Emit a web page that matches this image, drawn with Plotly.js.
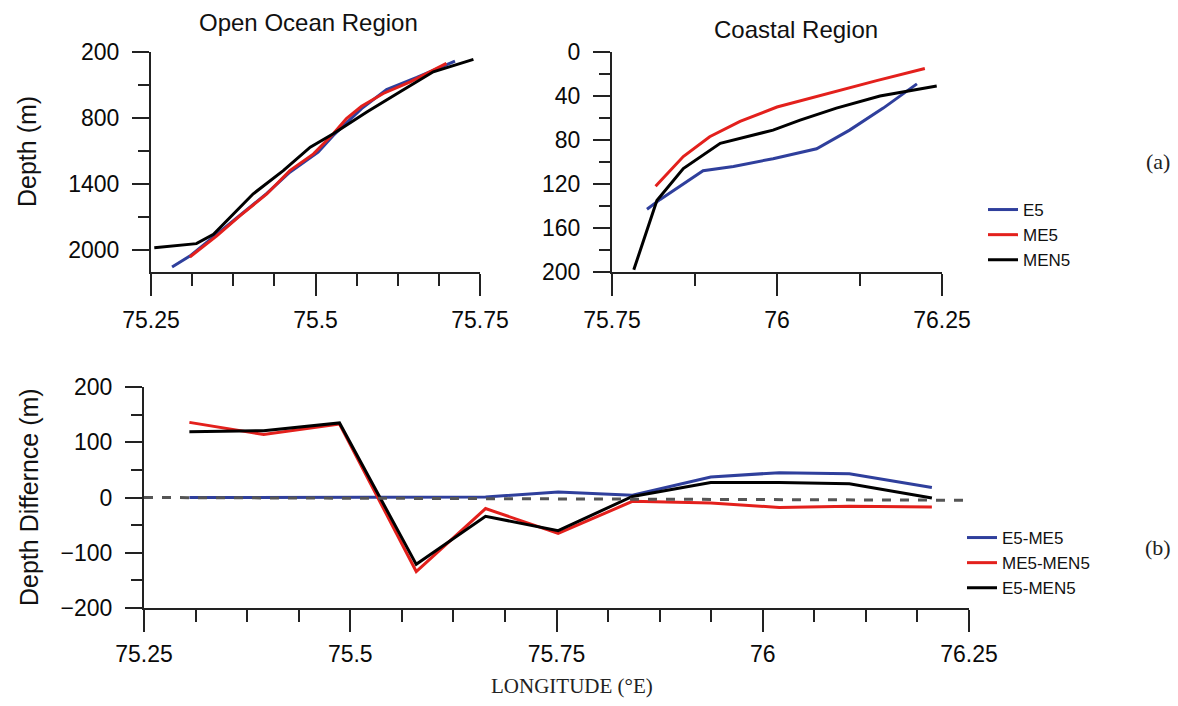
<!DOCTYPE html>
<html>
<head>
<meta charset="utf-8">
<script src="https://cdn.plot.ly/plotly-3.0.1.min.js"></script>
<style>html,body{margin:0;padding:0;background:#fff;}#chart{width:1178px;height:706px;}</style>
</head>
<body>
<div id="chart"></div>
<script>
// ---------- Data: Open Ocean Region (panel a, left) ----------
const ooLonE5 = [75.282, 75.309, 75.350, 75.426, 75.461, 75.504, 75.527, 75.570, 75.608, 75.654, 75.712];
const ooDepE5 = [2155, 2055, 1857, 1485, 1293, 1111, 958, 715, 541, 431, 282];
const ooLonME5 = [75.309, 75.350, 75.385, 75.426, 75.461, 75.497, 75.527, 75.547, 75.570, 75.603, 75.644, 75.699];
const ooDepME5 = [2064, 1872, 1689, 1491, 1278, 1126, 943, 806, 693, 577, 471, 303];
const ooLonMEN5 = [75.255, 75.319, 75.345, 75.375, 75.405, 75.451, 75.492, 75.527, 75.578, 75.628, 75.679, 75.740];
const ooDepMEN5 = [1979, 1942, 1857, 1674, 1491, 1278, 1065, 943, 745, 563, 380, 267];

// ---------- Data: Coastal Region (panel a, right) ----------
const coLonE5 = [75.803, 75.823, 75.888, 75.934, 75.994, 76.060, 76.110, 76.161, 76.212];
const coDepE5 = [143, 134, 108, 104, 97, 88, 71, 51, 29];
const coLonME5 = [75.816, 75.858, 75.898, 75.944, 76.000, 76.075, 76.151, 76.224];
const coDepME5 = [122, 95, 77, 63, 50, 38, 26, 15];
const coLonMEN5 = [75.783, 75.818, 75.858, 75.914, 75.994, 76.035, 76.090, 76.156, 76.242];
const coDepMEN5 = [198, 135, 106, 83, 71, 62, 51, 40, 31];

// ---------- Data: Depth difference (panel b) ----------
const diffLon = [75.305, 75.395, 75.487, 75.580, 75.664, 75.752, 75.842, 75.937, 76.020, 76.105, 76.205];
const diffE5ME5 = [0, 0, 0, 1, 1, 10, 4, 37, 45, 43, 18];
const diffME5MEN5 = [136, 114, 133, -134, -20, -65, -7, -10, -18, -16, -17];
const diffE5MEN5 = [119, 121, 135, -121, -34, -60, 2, 27, 27, 25, -1];
const refLon = [75.25, 76.25];
const refVal = [0, -5];

// ---------- Tick labels ----------
const ooXTicks = [75.25, 75.5, 75.75];
const ooXText = ['75.25', '75.5', '75.75'];
const ooYTicks = [200, 800, 1400, 2000];
const coXTicks = [75.75, 76, 76.25];
const coXText = ['75.75', '76', '76.25'];
const coYTicks = [0, 40, 80, 120, 160, 200];
const dfXTicks = [75.25, 75.5, 75.75, 76, 76.25];
const dfXText = ['75.25', '75.5', '75.75', '76', '76.25'];
const dfYTicks = [-200, -100, 0, 100, 200];

// ---------- Styling ----------
const W = 1178, H = 706;
const px = v => v / W;
const py = v => 1 - v / H;
const BLUE = '#2f3f9c', RED = '#e3201c', BLACK = '#000000';
const SANS = 'Liberation Sans, Arial, sans-serif';
const SERIF = 'Liberation Serif, Times New Roman, serif';
const LW = 3;

function axis(extra) {
  return Object.assign({
    showline: true, linecolor: '#222', linewidth: 2,
    ticks: 'outside', tickcolor: '#222', tickwidth: 2,
    showgrid: false, zeroline: false, fixedrange: true,
    tickfont: {family: SANS, size: 23, color: '#0a0a0a'},
    ticklabelstandoff: 8
  }, extra);
}

const traces = [
  {x: ooLonE5, y: ooDepE5, xaxis: 'x', yaxis: 'y', mode: 'lines', name: 'E5', legend: 'legend', line: {color: BLUE, width: LW}},
  {x: ooLonME5, y: ooDepME5, xaxis: 'x', yaxis: 'y', mode: 'lines', name: 'ME5', legend: 'legend', line: {color: RED, width: LW}},
  {x: ooLonMEN5, y: ooDepMEN5, xaxis: 'x', yaxis: 'y', mode: 'lines', name: 'MEN5', legend: 'legend', line: {color: BLACK, width: LW}},
  {x: coLonE5, y: coDepE5, xaxis: 'x2', yaxis: 'y2', mode: 'lines', name: 'E5', showlegend: false, line: {color: BLUE, width: LW}},
  {x: coLonME5, y: coDepME5, xaxis: 'x2', yaxis: 'y2', mode: 'lines', name: 'ME5', showlegend: false, line: {color: RED, width: LW}},
  {x: coLonMEN5, y: coDepMEN5, xaxis: 'x2', yaxis: 'y2', mode: 'lines', name: 'MEN5', showlegend: false, line: {color: BLACK, width: LW}},
  {x: diffLon, y: diffE5ME5, xaxis: 'x3', yaxis: 'y3', mode: 'lines', name: 'E5-ME5', legend: 'legend2', line: {color: BLUE, width: LW}},
  {x: diffLon, y: diffME5MEN5, xaxis: 'x3', yaxis: 'y3', mode: 'lines', name: 'ME5-MEN5', legend: 'legend2', line: {color: RED, width: LW}},
  {x: diffLon, y: diffE5MEN5, xaxis: 'x3', yaxis: 'y3', mode: 'lines', name: 'E5-MEN5', legend: 'legend2', line: {color: BLACK, width: LW}},
  {x: refLon, y: refVal, xaxis: 'x3', yaxis: 'y3', mode: 'lines', name: 'zero', showlegend: false, line: {color: '#555', width: 3, dash: '9px,9px'}}
];

const legendBase = {
  xanchor: 'left', yanchor: 'top', bgcolor: 'rgba(0,0,0,0)', borderwidth: 0,
  font: {family: SANS, size: 17, color: '#111'}, tracegroupgap: 0
};

const layout = {
  width: W, height: H,
  margin: {l: 0, r: 0, t: 0, b: 0},
  paper_bgcolor: '#fff', plot_bgcolor: '#fff',
  showlegend: true,
  legend: Object.assign({x: px(983), y: py(192)}, legendBase),
  legend2: Object.assign({x: px(962), y: py(520)}, legendBase),
  xaxis: axis({domain: [px(151), px(480)], range: [75.25, 75.75], anchor: 'y',
    tickmode: 'array', tickvals: ooXTicks, ticktext: ooXText, ticklen: 22, ticklabelstandoff: 4,
    minor: {ticks: 'outside', dtick: 0.0625, tick0: 75.25, ticklen: 12, tickwidth: 2, tickcolor: '#222'}}),
  yaxis: axis({domain: [py(272), py(52)], range: [2200, 200], anchor: 'x',
    tickmode: 'array', tickvals: ooYTicks, ticklen: 17,
    minor: {ticks: 'outside', dtick: 300, tick0: 200, ticklen: 11, tickwidth: 2, tickcolor: '#222'}}),
  xaxis2: axis({domain: [px(612), px(942)], range: [75.75, 76.25], anchor: 'y2',
    tickmode: 'array', tickvals: coXTicks, ticktext: coXText, ticklen: 22, ticklabelstandoff: 4,
    minor: {ticks: 'outside', dtick: 0.125, tick0: 75.75, ticklen: 12, tickwidth: 2, tickcolor: '#222'}}),
  yaxis2: axis({domain: [py(272), py(52)], range: [200, 0], anchor: 'x2',
    tickmode: 'array', tickvals: coYTicks, ticklen: 17,
    minor: {ticks: 'outside', dtick: 20, tick0: 0, ticklen: 11, tickwidth: 2, tickcolor: '#222'}}),
  xaxis3: axis({domain: [px(144), px(969)], range: [75.25, 76.25], anchor: 'y3',
    tickmode: 'array', tickvals: dfXTicks, ticktext: dfXText, ticklen: 22, ticklabelstandoff: 2,
    minor: {ticks: 'outside', dtick: 0.0625, tick0: 75.25, ticklen: 12, tickwidth: 2, tickcolor: '#222'}}),
  yaxis3: axis({domain: [py(608), py(387)], range: [-200, 200], anchor: 'x3',
    tickmode: 'array', tickvals: dfYTicks, ticklen: 17,
    minor: {ticks: 'outside', dtick: 50, tick0: -200, ticklen: 11, tickwidth: 2, tickcolor: '#222'}}),
  annotations: [
    {text: 'Open Ocean Region', x: px(308), y: py(23), xref: 'paper', yref: 'paper', xanchor: 'center', yanchor: 'middle', showarrow: false, font: {family: SANS, size: 24, color: '#111'}},
    {text: 'Coastal Region', x: px(796), y: py(30), xref: 'paper', yref: 'paper', xanchor: 'center', yanchor: 'middle', showarrow: false, font: {family: SANS, size: 24, color: '#111'}},
    {text: 'Depth (m)', x: px(27), y: py(152), xref: 'paper', yref: 'paper', xanchor: 'center', yanchor: 'middle', textangle: -90, showarrow: false, font: {family: SANS, size: 25, color: '#111'}},
    {text: 'Depth Differnce (m)', x: px(29), y: py(497), xref: 'paper', yref: 'paper', xanchor: 'center', yanchor: 'middle', textangle: -90, showarrow: false, font: {family: SANS, size: 25, color: '#111'}},
    {text: 'LONGITUDE (°E)', x: px(572), y: py(686), xref: 'paper', yref: 'paper', xanchor: 'center', yanchor: 'middle', showarrow: false, font: {family: SERIF, size: 21, color: '#222'}},
    {text: '(a)', x: px(1158), y: py(162), xref: 'paper', yref: 'paper', xanchor: 'center', yanchor: 'middle', showarrow: false, font: {family: SERIF, size: 22, color: '#222'}},
    {text: '(b)', x: px(1158), y: py(547), xref: 'paper', yref: 'paper', xanchor: 'center', yanchor: 'middle', showarrow: false, font: {family: SERIF, size: 22, color: '#222'}}
  ]
};

Plotly.newPlot('chart', traces, layout, {displayModeBar: false, staticPlot: true});
</script>
</body>
</html>
